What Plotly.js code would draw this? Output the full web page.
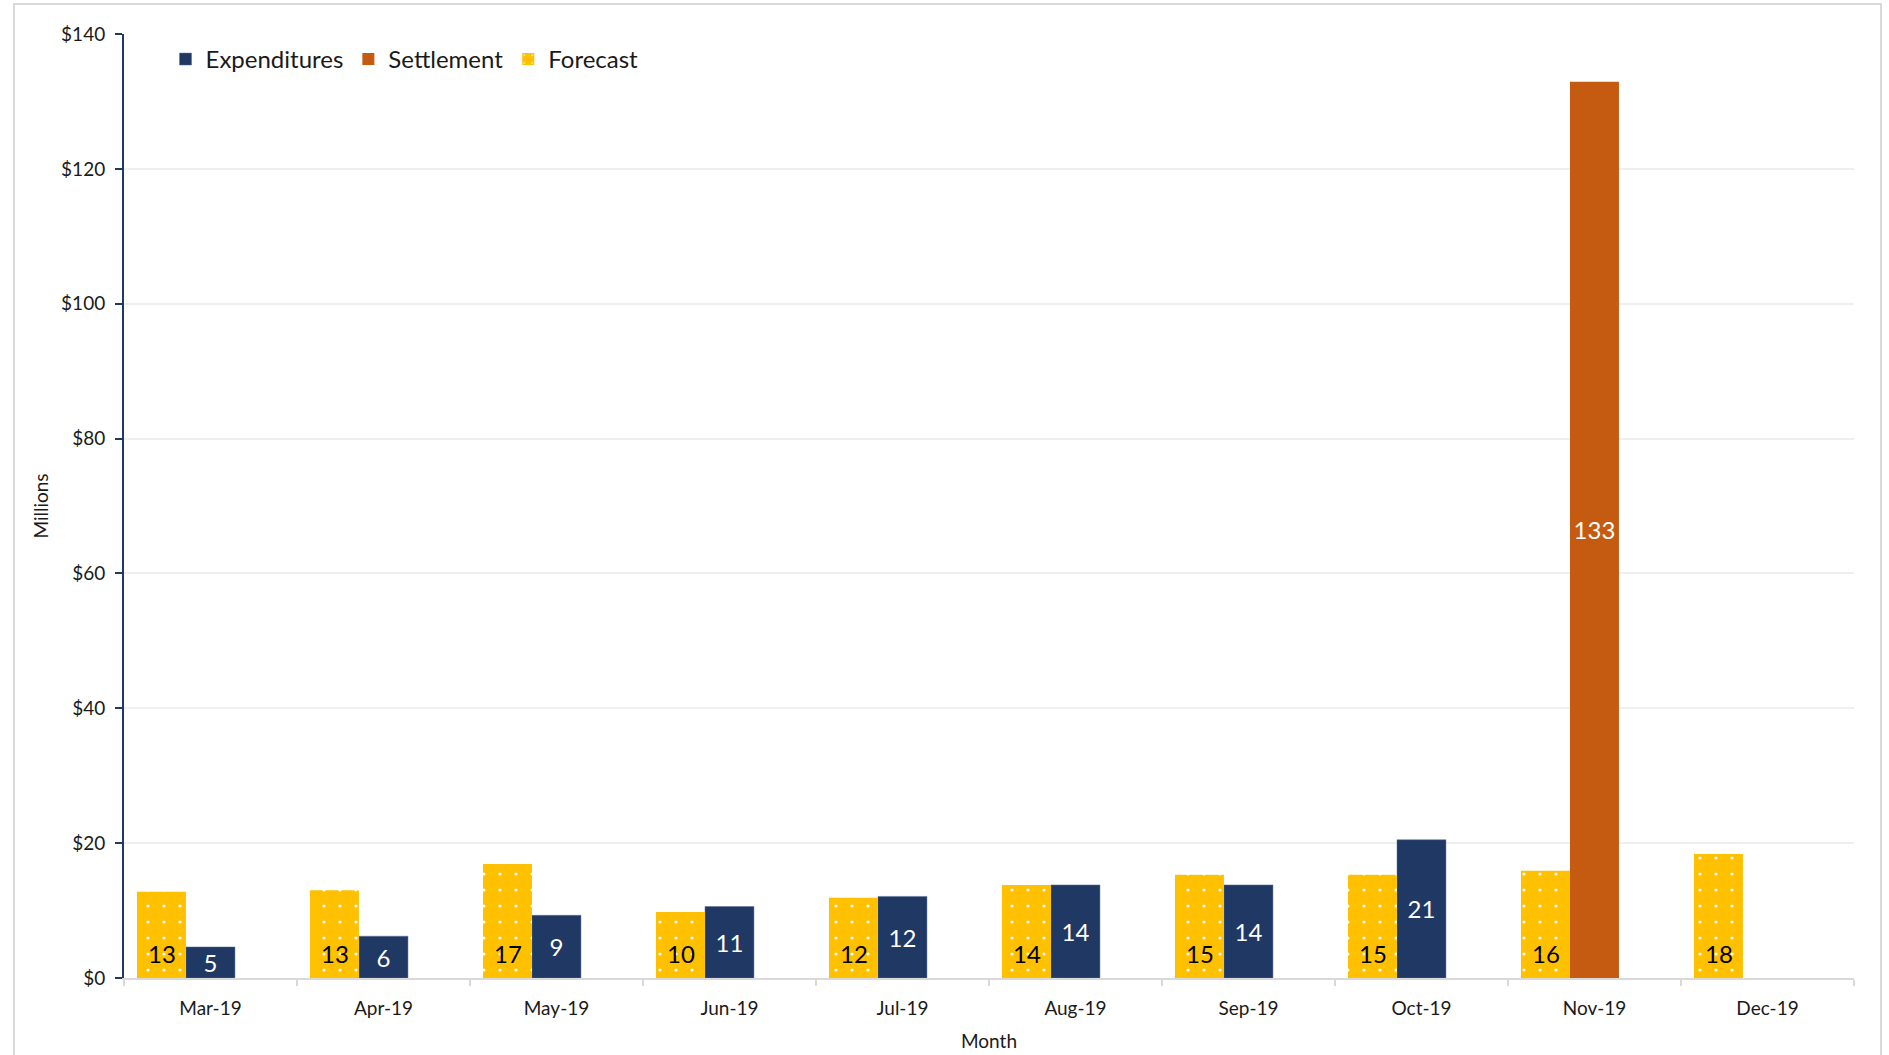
<!DOCTYPE html>
<html>
<head>
<meta charset="utf-8">
<script src="https://cdn.plot.ly/plotly-3.0.1.min.js"></script>
<style>
  html, body { margin: 0; padding: 0; background: #ffffff; }
  #chart { width: 1889px; height: 1055px; }
  #frame { position: absolute; left: 13px; top: 3px; width: 1869px; height: 1100px;
           border: 2px solid #d9d9d9; pointer-events: none; box-sizing: border-box; }
</style>
</head>
<body>
<div id="chart"></div>
<div id="frame"></div>
<script>
// ---- data ----
const months = ["Mar-19", "Apr-19", "May-19", "Jun-19", "Jul-19", "Aug-19", "Sep-19", "Oct-19", "Nov-19", "Dec-19"];
const forecast = [12.8, 13.0, 16.9, 9.8, 11.9, 13.8, 15.3, 15.3, 15.9, 18.4];
const expenditures = [4.6, 6.2, 9.3, 10.6, 12.1, 13.8, 13.8, 20.5, null, null];
const settlement = [null, null, null, null, null, null, null, null, 132.9, null];
const yTicks = [0, 20, 40, 60, 80, 100, 120, 140];

const FONT = "Lato, 'Open Sans', sans-serif";
const NAVY = "#203864";
const ORANGE = "#C55A11";
const GOLD = "#FFC000";

const barW = 0.283;

const traces = [
  {
    type: "bar", name: "Expenditures", x: months, y: expenditures,
    width: barW, offset: -0.1416,
    marker: { color: NAVY, line: { color: "#5a6f96", width: 0.5 } },
    text: expenditures.map(v => v == null ? "" : String(Math.round(v))),
    textposition: "inside", insidetextanchor: "middle", constraintext: "none", textangle: 0,
    textfont: { family: FONT, size: 24, color: "#ffffff" },
    hoverinfo: "x+y"
  },
  {
    type: "bar", name: "Settlement", x: months, y: settlement,
    width: barW, offset: -0.1416,
    marker: { color: ORANGE },
    text: settlement.map(v => v == null ? "" : String(Math.round(v))),
    textposition: "inside", insidetextanchor: "middle", constraintext: "none", textangle: 0,
    textfont: { family: FONT, size: 24, color: "#ffffff" },
    hoverinfo: "x+y"
  },
  {
    type: "bar", name: "Forecast", x: months, y: forecast,
    width: barW, offset: -0.425,
    marker: { color: GOLD, pattern: { shape: ".", fgcolor: "#ffffff", bgcolor: GOLD, size: 16, solidity: 0.03, fillmode: "replace" } },
    textposition: "none",
    hoverinfo: "x+y"
  }
];

// forecast labels sit near the bar base
const annotations = months.map((m, i) => ({
  x: m, y: 0, xref: "x", yref: "y",
  text: String(Math.round(forecast[i])),
  showarrow: false, yanchor: "middle", xanchor: "center",
  xshift: -49, yshift: 25,
  font: { family: FONT, size: 24, color: "#000000" }
}));

const layout = {
  width: 1889, height: 1055,
  margin: { l: 124, r: 35, t: 34, b: 77 },
  paper_bgcolor: "#ffffff", plot_bgcolor: "#ffffff",
  barmode: "overlay",
  font: { family: FONT, color: "#1a1a1a" },
  showlegend: true,
  legend: {
    orientation: "h", x: 0.024, y: 0.973, xanchor: "left", yanchor: "middle",
    font: { family: FONT, size: 24, color: "#1a1a1a" },
    traceorder: "normal", bgcolor: "rgba(0,0,0,0)", itemwidth: 30
  },
  xaxis: {
    type: "category", categoryorder: "array", categoryarray: months,
    tickson: "boundaries", ticks: "outside", ticklen: 6, tickcolor: "#d9d9d9", tickwidth: 2,
    showline: true, linecolor: "#d9d9d9", linewidth: 2,
    showgrid: false,
    ticklabelstandoff: 12,
    tickfont: { family: FONT, size: 19, color: "#1a1a1a" },
    title: { text: "Month", font: { family: FONT, size: 19, color: "#1a1a1a" }, standoff: 17 },
    range: [-0.5, months.length - 0.5]
  },
  yaxis: {
    range: [0, 140], tickvals: yTicks, ticktext: yTicks.map(v => "$" + v),
    ticks: "outside", ticklen: 7, tickcolor: NAVY, tickwidth: 2,
    showline: true, linecolor: NAVY, linewidth: 2,
    showgrid: true, gridcolor: "#efefef", gridwidth: 2,
    zeroline: false,
    ticklabelstandoff: 6,
    tickfont: { family: FONT, size: 19, color: "#1a1a1a" },
    title: { text: "Millions", font: { family: FONT, size: 19, color: "#1a1a1a" }, standoff: 7 }
  },
  annotations: annotations
};

Plotly.newPlot("chart", traces, layout, { displayModeBar: false, staticPlot: true });
</script>
</body>
</html>
